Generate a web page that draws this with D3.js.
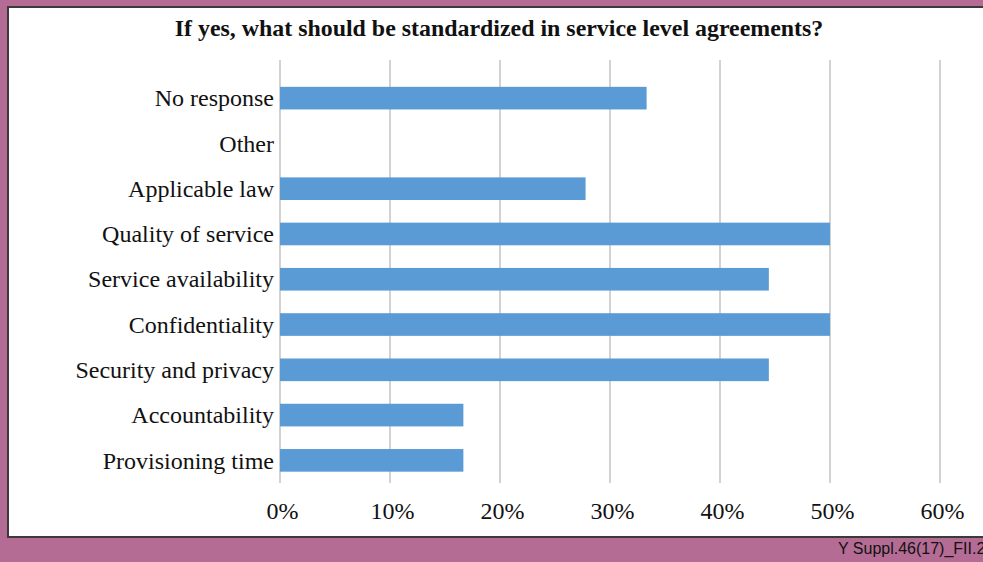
<!DOCTYPE html>
<html>
<head>
<meta charset="utf-8">
<script src="https://cdn.jsdelivr.net/npm/d3@7"></script>
<style>
  html, body { margin: 0; padding: 0; background: #b46c94; }
  svg { display: block; }
</style>
</head>
<body>
<svg id="chart" width="983" height="562"></svg>
<script>
// Survey answers, listed top to bottom as drawn
const categories = [
  "No response",
  "Other",
  "Applicable law",
  "Quality of service",
  "Service availability",
  "Confidentiality",
  "Security and privacy",
  "Accountability",
  "Provisioning time"
];
// Share of respondents (fraction)
const shares = [0.3333, 0, 0.2778, 0.5, 0.4444, 0.5, 0.4444, 0.1667, 0.1667];
const tickValues = [0, 0.1, 0.2, 0.3, 0.4, 0.5, 0.6];
const title = "If yes, what should be standardized in service level agreements?";
const figureId = "Y Suppl.46(17)_FII.2";

const svg = d3.select("#chart");
const W = 983, H = 562;

svg.append("rect").attr("width", W).attr("height", H).attr("fill", "#b46c94");

// White panel with a dark frame (its right side runs off the page)
svg.append("rect")
  .attr("x", 8).attr("y", 7)
  .attr("width", W + 20).attr("height", 530)
  .attr("fill", "#ffffff")
  .attr("stroke", "#3a3a3a").attr("stroke-width", 2);

const x = d3.scaleLinear().domain([0, 0.6]).range([280, 940]);
const y = d3.scaleBand().domain(categories).range([75.5, 483]).paddingInner(0.5).paddingOuter(0.25);

const gridTop = 60, gridBottom = 483;

// Vertical gridlines
svg.append("g")
  .selectAll("line")
  .data(tickValues)
  .join("line")
  .attr("x1", d => x(d)).attr("x2", d => x(d))
  .attr("y1", gridTop).attr("y2", gridBottom)
  .attr("stroke", "#c3c3c3").attr("stroke-width", 1.5);

// Bars
svg.append("g")
  .selectAll("rect")
  .data(categories.map((c, i) => ({ c, v: shares[i] })))
  .join("rect")
  .attr("x", x(0))
  .attr("y", d => y(d.c))
  .attr("width", d => x(d.v) - x(0))
  .attr("height", y.bandwidth())
  .attr("fill", "#5b9bd5");

// Category labels
const yAxis = d3.axisLeft(y).tickSize(0).tickPadding(0);
const gy = svg.append("g").attr("transform", "translate(274,0)").call(yAxis);
gy.select(".domain").remove();
gy.selectAll("text")
  .attr("font-family", "Liberation Serif, Times New Roman, serif")
  .attr("font-size", 24)
  .attr("fill", "#111")
  .attr("dy", "0.34em");

// Percentage ticks
const xAxis = d3.axisBottom(x).tickValues(tickValues).tickFormat(d3.format(".0%")).tickSize(0).tickPadding(0);
const gx = svg.append("g").attr("transform", "translate(2,502)").call(xAxis);
gx.select(".domain").remove();
gx.selectAll("text")
  .attr("font-family", "Liberation Serif, Times New Roman, serif")
  .attr("font-size", 24)
  .attr("fill", "#111")
  .attr("dy", "0.71em");

// Title
svg.append("text")
  .attr("x", 499).attr("y", 36)
  .attr("text-anchor", "middle")
  .attr("font-family", "Liberation Serif, Times New Roman, serif")
  .attr("font-weight", "bold")
  .attr("font-size", 23.9)
  .attr("fill", "#111")
  .text(title);

// Figure reference in the bottom strip
svg.append("text")
  .attr("x", 838).attr("y", 554)
  .attr("font-family", "Liberation Sans, Arial, sans-serif")
  .attr("font-size", 16)
  .attr("fill", "#111")
  .text(figureId);
</script>
</body>
</html>
